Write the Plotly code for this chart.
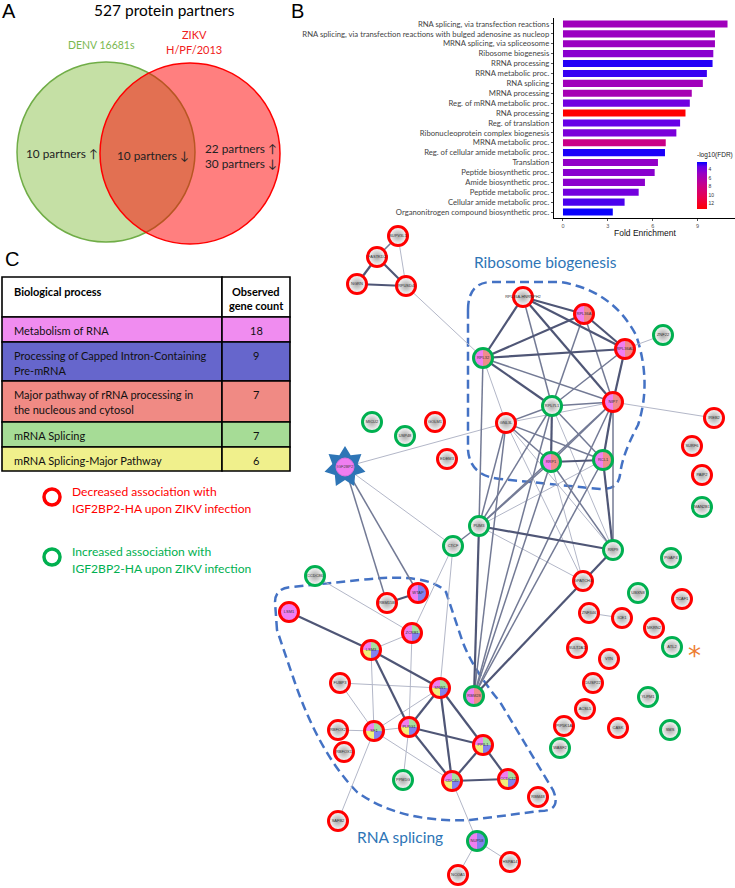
import math
import plotly.graph_objects as go

W, H = 735, 888

# ---------------- Panel A : Venn data ----------------
venn_title = "527 protein partners"
venn_set_denv = ["DENV 16681s"]
venn_set_zikv = ["ZIKV", "H/PF/2013"]
denv_only = ["10 partners ↑"]
shared = ["10 partners ↓"]
zikv_only = ["22 partners ↑", "30 partners ↓"]

# ---------------- Panel B : GO enrichment ----------------
go_terms = [
    "RNA splicing, via transfection reactions",
    "RNA splicing, via transfection reactions with bulged adenosine as nucleop",
    "MRNA splicing, via spliceosome",
    "Ribosome biogenesis",
    "RRNA processing",
    "RRNA metabolic proc.",
    "RNA splicing",
    "MRNA processing",
    "Reg. of mRNA metabolic proc.",
    "RNA processing",
    "Reg. of translation",
    "Ribonucleoprotein complex biogenesis",
    "MRNA metabolic proc.",
    "Reg. of cellular amide metabolic proc.",
    "Translation",
    "Peptide biosynthetic proc.",
    "Amide biosynthetic proc.",
    "Peptide metabolic proc.",
    "Cellular amide metabolic proc.",
    "Organonitrogen compound biosynthetic proc.",
]
fold_enrichment = [11.0, 10.16, 10.16, 10.05, 10.0, 9.62, 9.35, 8.61, 8.48, 8.19,
                   7.83, 7.58, 6.87, 6.82, 6.35, 6.13, 5.48, 5.06, 4.12, 3.33]
neg_log10_fdr = [5.3, 5.0, 5.0, 4.4, 2.6, 2.8, 5.3, 5.7, 3.6, 13.3,
                 3.3, 3.9, 7.8, 2.5, 4.7, 4.4, 4.5, 3.7, 3.0, 2.3]
fdr_ticks = [4, 6, 8, 10, 12]

# ---------------- Panel C : table ----------------
table_header = ["Biological process", "Observed<br>gene count"]
processes = [
    "Metabolism of RNA",
    "Processing of Capped Intron-Containing<br>Pre-mRNA",
    "Major pathway of rRNA processing in<br>the nucleous and cytosol",
    "mRNA Splicing",
    "mRNA Splicing-Major Pathway",
]
gene_counts = [18, 9, 7, 7, 6]
process_colors = ["#f08cf0", "#6666cc", "#f08a84", "#a6dc96", "#f0f08c"]

legend_labels = ["Decreased association with<br>IGF2BP2-HA upon ZIKV infection",
                 "Increased association with<br>IGF2BP2-HA upon ZIKV infection"]

# ---------------- Network ----------------
node_names = ["SUPV3L1", "FASTKD2", "NGRN", "RPUSD4", "RPL36A-HNRNPH2", "RPL36A", "RPL36AL",
              "ZNF22", "RPL32", "NIP7", "RPL7L1", "GNL3L", "RRP1", "RCL1", "IREB2", "SURF6",
              "PAIP2", "MAN2B1", "MICU2", "USP48", "GOLM1", "EDEM3", "IGF2BP2", "PUM3", "CTCF",
              "RRP9", "PGAP4", "GPATCH4", "UBXN8", "TCAF1", "ZNF346", "ICE1", "MKRN2", "ATL2",
              "SULT2A1", "VTN", "DUSP22", "YLPM1", "ACSL5", "PIP5K1A", "WASF2", "CASK", "SMS",
              "CCDC86", "RBM15B", "WTAP", "LSM1", "ZCRB1", "LSM3", "FUBP3", "SNW1", "RBM28",
              "RBFOX2", "SF1", "PLRG1", "PPIL1", "RBFOX1", "PPM1G", "CDC40", "CCDC12", "RBM48",
              "SAFB2", "NUP58", "HSPA14", "NCOA5"]
node_x = [398, 377, 357, 406, 523, 584, 625,
          663, 483, 613, 552, 506, 551, 603, 714, 692,
          702, 702, 372, 405, 435, 447, 345, 479, 453,
          613, 671, 583, 638, 682, 589, 622, 654, 672,
          577, 609, 593, 648, 585, 564, 560, 618, 670,
          315, 387, 418, 289, 412, 371, 340, 440, 474,
          338, 374, 409, 483, 344, 403, 452, 508, 538,
          338, 477, 510, 458]
node_y = [236, 257, 284, 286, 297, 314, 349,
          335, 358, 402, 406, 423, 462, 460, 418, 446,
          475, 507, 422, 436, 422, 459, 467, 526, 546,
          550, 558, 581, 593, 599, 613, 618, 628, 647,
          648, 659, 683, 697, 709, 726, 748, 728, 730,
          576, 603, 593, 612, 633, 650, 683, 688, 696,
          730, 731, 727, 745, 752, 780, 781, 779, 797,
          821, 841, 862, 875]
# ring: "dec" = decreased (red), "inc" = increased (green), "bait" = IGF2BP2
node_ring = ["dec", "dec", "dec", "dec", "dec", "dec", "dec",
             "inc", "inc", "dec", "inc", "dec", "inc", "inc", "dec", "dec",
             "dec", "inc", "inc", "inc", "dec", "dec", "bait", "inc", "inc",
             "inc", "inc", "dec", "inc", "dec", "dec", "dec", "dec", "inc",
             "dec", "dec", "dec", "inc", "dec", "dec", "inc", "dec", "inc",
             "inc", "dec", "dec", "dec", "dec", "dec", "dec", "dec", "inc",
             "dec", "dec", "dec", "dec", "dec", "inc", "dec", "dec", "dec",
             "dec", "inc", "dec", "dec"]
# pathway membership (pie slices) per node
half_pink_salmon = [("#f07ef0", 90, 270), ("#f08c8c", -90, 90)]
half_pink_blue = [("#f07ef0", 90, 270), ("#8282ee", -90, 90)]
quad = [("#a6e0a0", 0, 90), ("#f07ef0", 90, 180), ("#f0f07c", 180, 270), ("#8282ee", 270, 360)]
tri = [("#a6e0a0", 0, 90), ("#f07ef0", 90, 270), ("#8282ee", 270, 360)]
full_pink = [("#f07ef0", 0, 360)]
node_pies = {
    "RPL36A": half_pink_salmon, "RPL36AL": half_pink_salmon, "RPL32": half_pink_salmon,
    "NIP7": half_pink_salmon, "RRP1": half_pink_salmon, "RCL1": half_pink_salmon,
    "RBM28": half_pink_salmon, "WTAP": half_pink_blue, "NUP58": half_pink_blue,
    "LSM1": full_pink, "ZCRB1": tri, "LSM3": quad, "SNW1": quad, "SF1": quad,
    "PLRG1": quad, "PPIL1": quad, "CDC40": quad, "CCDC12": quad,
}
# edges: (a, b, strength 1..3)
edges = [
    ("SUPV3L1", "RPUSD4", 1), ("SUPV3L1", "FASTKD2", 2), ("FASTKD2", "NGRN", 3), ("FASTKD2", "RPUSD4", 3),
    ("NGRN", "RPUSD4", 3), ("RPUSD4", "RPL32", 1),
    ("RPL36A-HNRNPH2", "RPL32", 3), ("RPL36A-HNRNPH2", "RPL36A", 3), ("RPL36A-HNRNPH2", "RPL36AL", 3),
    ("RPL36A-HNRNPH2", "NIP7", 3), ("RPL36A-HNRNPH2", "RPL7L1", 2),
    ("RPL36A", "RPL32", 3), ("RPL36A", "RPL36AL", 3), ("RPL36A", "NIP7", 2), ("RPL36A", "RPL7L1", 2),
    ("RPL36AL", "RPL32", 3), ("RPL36AL", "NIP7", 3), ("RPL36AL", "RPL7L1", 2), ("RPL36AL", "ZNF22", 1),
    ("RPL32", "NIP7", 2), ("RPL32", "RPL7L1", 3), ("RPL32", "GNL3L", 1), ("RPL32", "PUM3", 2),
    ("NIP7", "RPL7L1", 2), ("NIP7", "RRP1", 2), ("NIP7", "RCL1", 3), ("NIP7", "IREB2", 1),
    ("NIP7", "GNL3L", 1), ("NIP7", "PUM3", 2), ("NIP7", "RBM28", 2), ("NIP7", "RRP9", 2),
    ("RPL7L1", "GNL3L", 2), ("RPL7L1", "RRP1", 3), ("RPL7L1", "RCL1", 2), ("RPL7L1", "PUM3", 2),
    ("RPL7L1", "RBM28", 2), ("RPL7L1", "RRP9", 1),
    ("GNL3L", "RRP1", 2), ("GNL3L", "RCL1", 2), ("GNL3L", "PUM3", 2), ("GNL3L", "RBM28", 2),
    ("GNL3L", "RRP9", 1), ("GNL3L", "IGF2BP2", 1), ("GNL3L", "GPATCH4", 1),
    ("RRP1", "RCL1", 3), ("RRP1", "PUM3", 2), ("RRP1", "RBM28", 2), ("RRP1", "RRP9", 2), ("RRP1", "GPATCH4", 1),
    ("RCL1", "RRP9", 3), ("RCL1", "PUM3", 1), ("RCL1", "RBM28", 2),
    ("PUM3", "CTCF", 2), ("PUM3", "RRP9", 3), ("PUM3", "RBM28", 3), ("PUM3", "GPATCH4", 1),
    ("RRP9", "RBM28", 3), ("RRP9", "GPATCH4", 1),
    ("IGF2BP2", "RBM15B", 2), ("IGF2BP2", "WTAP", 2), ("IGF2BP2", "CTCF", 1),
    ("CTCF", "ZCRB1", 1), ("CTCF", "SNW1", 1), ("CCDC86", "ZCRB1", 1), ("RBM15B", "WTAP", 3),
    ("LSM1", "LSM3", 3), ("ZCRB1", "LSM3", 1), ("ZCRB1", "PLRG1", 1),
    ("LSM3", "SNW1", 3), ("LSM3", "SF1", 1), ("LSM3", "PLRG1", 3),
    ("FUBP3", "SNW1", 1), ("FUBP3", "SF1", 1),
    ("SNW1", "SF1", 1), ("SNW1", "PLRG1", 3), ("SNW1", "CDC40", 3), ("SNW1", "PPIL1", 3),
    ("PLRG1", "SF1", 1), ("PLRG1", "PPIL1", 3), ("PLRG1", "CDC40", 3), ("PLRG1", "PPM1G", 1),
    ("SF1", "CDC40", 1), ("SF1", "RBFOX2", 1), ("SF1", "SAFB2", 1),
    ("PPIL1", "CDC40", 3), ("PPIL1", "CCDC12", 3), ("CDC40", "CCDC12", 3),
    ("CDC40", "NUP58", 1), ("NUP58", "HSPA14", 1), ("NUP58", "NCOA5", 1), ("ZNF346", "ICE1", 1),
]
cluster_labels = ["Ribosome biogenesis", "RNA splicing"]

# ======================================================================
CAL = "Lato"
RED, GREEN, BLUE_TXT = "#ff0000", "#00b050", "#2e75b6"

fig = go.Figure()
pos = {n: (x, y) for n, x, y in zip(node_names, node_x, node_y)}
ring_col = {"dec": RED, "inc": GREEN}

# ---- edges
edge_style = {1: ("#b3b7c8", 1.0), 2: ("#737a95", 1.5), 3: ("#4f5676", 2.2)}
for s in (1, 2, 3):
    xs, ys = [], []
    for a, b, w in edges:
        if w == s:
            xs += [pos[a][0], pos[b][0], None]
            ys += [pos[a][1], pos[b][1], None]
    fig.add_trace(go.Scatter(x=xs, y=ys, mode="lines", xaxis="x", yaxis="y",
                             line=dict(color=edge_style[s][0], width=edge_style[s][1]),
                             hoverinfo="skip", showlegend=False))

# ---- bait star (IGF2BP2)
bx, by = pos["IGF2BP2"]
sx, sy = [], []
for k in range(15):
    ang = math.pi / 2 + k * math.pi / 7
    r = 21 if k % 2 == 0 else 13
    sx.append(bx + r * math.cos(ang))
    sy.append(by - r * math.sin(ang))
fig.add_trace(go.Scatter(x=sx, y=sy, mode="lines", fill="toself", fillcolor="#2e75b6",
                         line=dict(width=0, color="#2e75b6"), xaxis="x", yaxis="y",
                         hoverinfo="skip", showlegend=False))
fig.add_trace(go.Scatter(x=[bx], y=[by], mode="markers+text", text=["IGF2BP2"],
                         textfont=dict(size=4, color="#444", family="Liberation Sans"),
                         marker=dict(size=18, color="#f07ef0", line=dict(width=1, color="#e070e0")),
                         xaxis="x", yaxis="y", hoverinfo="skip", showlegend=False))

# ---- plain nodes
plain = [i for i, n in enumerate(node_names) if node_ring[i] != "bait" and n not in node_pies]
fig.add_trace(go.Scatter(
    x=[node_x[i] for i in plain], y=[node_y[i] for i in plain], mode="markers+text",
    text=[node_names[i] for i in plain], textposition="middle center",
    textfont=dict(size=4, color="#333", family="Liberation Sans"),
    marker=dict(size=19, color="#ffffff", gradient=dict(type="radial", color="#a8a8a8"),
                line=dict(width=3, color=[ring_col[node_ring[i]] for i in plain])),
    xaxis="x", yaxis="y", hoverinfo="skip", showlegend=False))

# ---- pie wedges
R = 9.6
wedges = {}
for n, slices in node_pies.items():
    cx, cy = pos[n]
    for col, a0, a1 in slices:
        xs, ys = ([], []) if a1 - a0 >= 360 else ([cx], [cy])
        steps = 24
        for k in range(steps + 1):
            a = math.radians(a0 + (a1 - a0) * k / steps)
            xs.append(cx + R * math.cos(a))
            ys.append(cy - R * math.sin(a))
        if a1 - a0 < 360:
            xs.append(cx); ys.append(cy)
        wx, wy = wedges.setdefault(col, ([], []))
        wx += xs + [None]; wy += ys + [None]
for col, (wx, wy) in wedges.items():
    fig.add_trace(go.Scatter(x=wx, y=wy, mode="lines", fill="toself", fillcolor=col,
                             line=dict(width=0, color=col), xaxis="x", yaxis="y",
                             hoverinfo="skip", showlegend=False))
pie_idx = [i for i, n in enumerate(node_names) if n in node_pies]
fig.add_trace(go.Scatter(
    x=[node_x[i] for i in pie_idx], y=[node_y[i] for i in pie_idx], mode="markers+text",
    text=[node_names[i] for i in pie_idx], textposition="middle center",
    textfont=dict(size=4, color="#333", family="Liberation Sans"),
    marker=dict(size=19, color="rgba(0,0,0,0)",
                line=dict(width=3, color=[ring_col[node_ring[i]] for i in pie_idx])),
    xaxis="x", yaxis="y", hoverinfo="skip", showlegend=False))

# ---- legend rings of panel C
fig.add_trace(go.Scatter(x=[52, 52], y=[497, 557], mode="markers", xaxis="x", yaxis="y",
                         marker=dict(size=16, color="rgba(0,0,0,0)",
                                     line=dict(width=3.5, color=[RED, GREEN])),
                         hoverinfo="skip", showlegend=False))

# ---- Panel B bars
cs = [[0, "#ff0000"], [0.25, "#e8004f"], [0.5, "#c90088"], [0.75, "#9a00c2"],
      [0.9, "#6800e7"], [1, "#0000ff"]]
fig.add_trace(go.Bar(
    x=fold_enrichment, y=list(range(len(go_terms))), orientation="h", width=0.72,
    xaxis="x2", yaxis="y2", hoverinfo="skip", showlegend=False,
    marker=dict(color=[-v for v in neg_log10_fdr], colorscale=cs, cmin=-13.3, cmax=-2.2,
                line=dict(width=0),
                showscale=True,
                colorbar=dict(x=697 / W, xanchor="left", xpad=0, ypad=0, thickness=10,
                              lenmode="pixels", len=60, y=1 - 179 / H, yanchor="middle",
                              outlinewidth=0, ticks="",
                              tickvals=[-t for t in fdr_ticks], ticktext=[str(t) for t in fdr_ticks],
                              tickfont=dict(size=5, color="#333", family="Liberation Sans"),
                              title=dict(text="-log10(FDR)", side="top",
                                         font=dict(size=6.5, color="#222", family="Liberation Sans"))))))

# ---- shapes
shapes = []
# Venn
shapes.append(dict(type="circle", xref="x", yref="y", x0=17, x1=195, y0=62, y1=242,
                   fillcolor="#c5e0a5", line=dict(color="#70ad47", width=1.5), layer="below"))
shapes.append(dict(type="circle", xref="x", yref="y", x0=100, x1=280, y0=63, y1=244,
                   fillcolor="rgba(255,0,0,0.5)", line=dict(color="#ff0000", width=1.5), layer="below"))
# table
row_bounds = [277, 317, 342, 381, 422, 447, 471]
col_bounds = [2, 222, 290]
fills = ["#ffffff"] + process_colors
for r in range(len(row_bounds) - 1):
    for c in range(2):
        shapes.append(dict(type="rect", xref="x", yref="y", x0=col_bounds[c], x1=col_bounds[c + 1],
                           y0=row_bounds[r], y1=row_bounds[r + 1], fillcolor=fills[r],
                           line=dict(color="#000", width=1.6), layer="below"))
# dashed cluster outlines
dash_line = dict(color="#4472c4", width=2.5, dash="9px,5px")
shapes.append(dict(type="path", xref="x", yref="y", layer="below", line=dash_line,
                   path="M 468,310 Q 468,282 492,282 L 560,282 Q 612,290 636,335 "
                        "Q 652,382 638,425 Q 622,455 620,475 Q 618,490 600,489 "
                        "L 500,479 Q 470,476 468,450 Z"))
shapes.append(dict(type="path", xref="x", yref="y", layer="below", line=dash_line,
                   path="M 277,630 L 275,602 Q 275,588 292,587 L 360,580 Q 428,572 446,592 "
                        "L 462,640 Q 472,668 500,702 L 553,790 Q 562,811 540,811 "
                        "L 470,820 Q 400,823 357,792 Q 318,752 293,677 Z"))

# ---- annotations
ann = []
def txt(x, y, s, size, color="#000", family=CAL, xanchor="center", bold=False):
    if bold:
        s = "<b>" + s + "</b>"
    ann.append(dict(x=x, y=y, xref="x", yref="y", text=s, showarrow=False, xanchor=xanchor,
                    yanchor="middle", font=dict(size=size, color=color, family=family)))

txt(9, 11, "A", 20, family="Liberation Sans")
txt(297, 11, "B", 20, family="Liberation Sans")
txt(12, 259, "C", 20, family="Liberation Sans")
txt(164, 10, venn_title, 15.5)
txt(101, 45, venn_set_denv[0], 10.5, color="#7ab84f")
txt(194, 34, venn_set_zikv[0], 11, color="#f02020")
txt(194, 49, venn_set_zikv[1], 11, color="#f02020")
txt(62, 153, denv_only[0], 11.8, color="#222")
txt(153, 155, shared[0], 11.8, color="#222")
txt(241, 148, zikv_only[0], 11.8, color="#222")
txt(241, 163, zikv_only[1], 11.8, color="#222")
# table text
txt(12, 291, table_header[0], 11, xanchor="left", bold=True)
for k, line in enumerate(table_header[1].split("<br>")):
    txt(256, 291 + 14 * k, line, 11, bold=True)
for r, (p, cnt) in enumerate(zip(processes, gene_counts)):
    top = row_bounds[r + 1]
    for k, line in enumerate(p.split("<br>")):
        txt(12, top + 13 + 15 * k, line, 11, xanchor="left", color="#111")
    txt(256, top + 13, str(cnt), 11, color="#111")
# legend text
for i, (lab, col) in enumerate(zip(legend_labels, [RED, GREEN])):
    y0 = [491, 551][i]
    for k, line in enumerate(lab.split("<br>")):
        txt(70, y0 + 17 * k, line, 12.1, color=col, xanchor="left")
# cluster labels
txt(545, 262, cluster_labels[0], 15.5, color=BLUE_TXT)
txt(400, 837, cluster_labels[1], 15.5, color=BLUE_TXT)
# asterisk
txt(694, 656, "*", 26, color="#ed7d31", family="DejaVu Sans")
# axis title of B
txt(645, 233, "Fold Enrichment", 8.5, color="#111", family="Liberation Sans")

fig.update_layout(
    width=W, height=H, autosize=False, margin=dict(l=0, r=0, t=0, b=0),
    paper_bgcolor="white", plot_bgcolor="rgba(0,0,0,0)",
    xaxis=dict(domain=[0, 1], range=[0, W], visible=False, fixedrange=True),
    yaxis=dict(domain=[0, 1], range=[H, 0], visible=False, fixedrange=True),
    xaxis2=dict(domain=[554 / W, 1], anchor="y2", range=[-0.6, 11.5], tickvals=[0, 3, 6, 9],
                ticks="outside", ticklen=2, tickcolor="#555", showgrid=False, zeroline=False,
                showline=True, linecolor="#000", linewidth=1, fixedrange=True,
                tickfont=dict(size=5.5, color="#555", family="Liberation Sans")),
    yaxis2=dict(domain=[1 - 218 / H, 1 - 18 / H], anchor="x2", range=[19.6, -0.6],
                tickvals=list(range(len(go_terms))), ticktext=go_terms, ticks="outside",
                ticklen=2, tickcolor="#555", showgrid=False, zeroline=False,
                showline=True, linecolor="#000", linewidth=1.2, fixedrange=True,
                tickfont=dict(size=7.7, color="#444", family=CAL)),
    shapes=shapes, annotations=ann,
)
fig.write_html("out.html", config={"displayModeBar": False, "staticPlot": True},
               post_script="document.body.style.margin='0px';document.body.style.overflow='hidden';")
